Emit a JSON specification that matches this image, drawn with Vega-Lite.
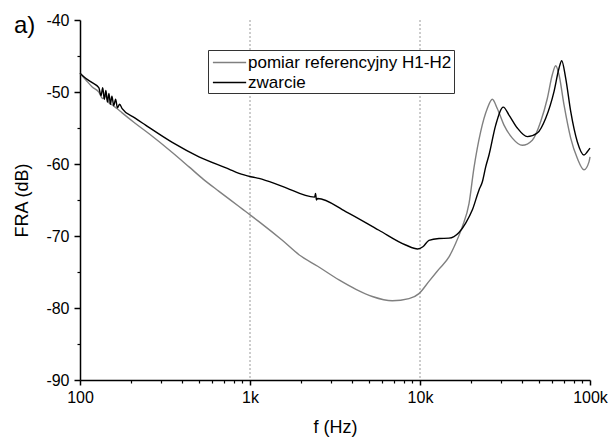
{
  "$schema": "https://vega.github.io/schema/vega-lite/v6.json",
  "width": 510,
  "height": 360,
  "padding": {"left": 13, "top": 12, "right": 3, "bottom": 2},
  "config": {
    "view": {"stroke": null},
    "font": "Liberation Sans",
    "axis": {"labelFont": "Liberation Sans", "titleFont": "Liberation Sans", "labelColor": "black", "titleColor": "black", "domainColor": "black", "tickColor": "black", "grid": false, "titleFontWeight": "normal"}
  },
  "title": {"text": "a)", "anchor": "start", "frame": "bounds", "fontSize": 24, "fontWeight": "normal", "font": "Liberation Sans", "color": "black", "offset": -26},
  "datasets": {
    "grid": [{"f": 1000}, {"f": 10000}],
    "series": [
      {"s": "pomiar referencyjny H1-H2", "f": 100, "db": -47.4},
      {"s": "pomiar referencyjny H1-H2", "f": 108, "db": -48.3},
      {"s": "pomiar referencyjny H1-H2", "f": 118, "db": -49.3},
      {"s": "pomiar referencyjny H1-H2", "f": 129, "db": -50.0},
      {"s": "pomiar referencyjny H1-H2", "f": 136, "db": -50.9},
      {"s": "pomiar referencyjny H1-H2", "f": 142, "db": -50.6},
      {"s": "pomiar referencyjny H1-H2", "f": 148, "db": -51.5},
      {"s": "pomiar referencyjny H1-H2", "f": 155, "db": -51.8},
      {"s": "pomiar referencyjny H1-H2", "f": 165, "db": -52.3},
      {"s": "pomiar referencyjny H1-H2", "f": 177, "db": -52.9},
      {"s": "pomiar referencyjny H1-H2", "f": 210, "db": -54.3},
      {"s": "pomiar referencyjny H1-H2", "f": 255, "db": -55.8},
      {"s": "pomiar referencyjny H1-H2", "f": 349, "db": -58.4},
      {"s": "pomiar referencyjny H1-H2", "f": 438, "db": -60.4},
      {"s": "pomiar referencyjny H1-H2", "f": 530, "db": -62.1},
      {"s": "pomiar referencyjny H1-H2", "f": 657, "db": -63.8},
      {"s": "pomiar referencyjny H1-H2", "f": 862, "db": -65.9},
      {"s": "pomiar referencyjny H1-H2", "f": 943, "db": -66.6},
      {"s": "pomiar referencyjny H1-H2", "f": 1129, "db": -68.0},
      {"s": "pomiar referencyjny H1-H2", "f": 1549, "db": -70.6},
      {"s": "pomiar referencyjny H1-H2", "f": 1942, "db": -72.6},
      {"s": "pomiar referencyjny H1-H2", "f": 2500, "db": -74.2},
      {"s": "pomiar referencyjny H1-H2", "f": 3338, "db": -76.1},
      {"s": "pomiar referencyjny H1-H2", "f": 4200, "db": -77.4},
      {"s": "pomiar referencyjny H1-H2", "f": 5241, "db": -78.4},
      {"s": "pomiar referencyjny H1-H2", "f": 6873, "db": -79.0},
      {"s": "pomiar referencyjny H1-H2", "f": 8616, "db": -78.7},
      {"s": "pomiar referencyjny H1-H2", "f": 9865, "db": -78.0},
      {"s": "pomiar referencyjny H1-H2", "f": 11290, "db": -76.3},
      {"s": "pomiar referencyjny H1-H2", "f": 12930, "db": -74.6},
      {"s": "pomiar referencyjny H1-H2", "f": 14810, "db": -72.9},
      {"s": "pomiar referencyjny H1-H2", "f": 16220, "db": -71.0},
      {"s": "pomiar referencyjny H1-H2", "f": 17740, "db": -68.7},
      {"s": "pomiar referencyjny H1-H2", "f": 19420, "db": -65.5},
      {"s": "pomiar referencyjny H1-H2", "f": 20780, "db": -60.5},
      {"s": "pomiar referencyjny H1-H2", "f": 22750, "db": -55.5},
      {"s": "pomiar referencyjny H1-H2", "f": 24880, "db": -52.3},
      {"s": "pomiar referencyjny H1-H2", "f": 26630, "db": -51.0},
      {"s": "pomiar referencyjny H1-H2", "f": 28480, "db": -52.3},
      {"s": "pomiar referencyjny H1-H2", "f": 31200, "db": -54.6},
      {"s": "pomiar referencyjny H1-H2", "f": 34920, "db": -56.4},
      {"s": "pomiar referencyjny H1-H2", "f": 39960, "db": -57.4},
      {"s": "pomiar referencyjny H1-H2", "f": 45780, "db": -56.7},
      {"s": "pomiar referencyjny H1-H2", "f": 51290, "db": -54.1},
      {"s": "pomiar referencyjny H1-H2", "f": 56090, "db": -50.9},
      {"s": "pomiar referencyjny H1-H2", "f": 60010, "db": -47.6},
      {"s": "pomiar referencyjny H1-H2", "f": 62840, "db": -46.35},
      {"s": "pomiar referencyjny H1-H2", "f": 65720, "db": -47.6},
      {"s": "pomiar referencyjny H1-H2", "f": 70340, "db": -51.8},
      {"s": "pomiar referencyjny H1-H2", "f": 77000, "db": -56.4},
      {"s": "pomiar referencyjny H1-H2", "f": 84200, "db": -59.2},
      {"s": "pomiar referencyjny H1-H2", "f": 92200, "db": -60.8},
      {"s": "pomiar referencyjny H1-H2", "f": 98650, "db": -59.7},
      {"s": "pomiar referencyjny H1-H2", "f": 100000, "db": -59.0},
      {"s": "zwarcie", "f": 100, "db": -47.4},
      {"s": "zwarcie", "f": 108, "db": -48.1},
      {"s": "zwarcie", "f": 118, "db": -48.7},
      {"s": "zwarcie", "f": 129, "db": -49.4},
      {"s": "zwarcie", "f": 133, "db": -50.5},
      {"s": "zwarcie", "f": 136, "db": -49.4},
      {"s": "zwarcie", "f": 139, "db": -51.0},
      {"s": "zwarcie", "f": 142, "db": -49.8},
      {"s": "zwarcie", "f": 145, "db": -51.4},
      {"s": "zwarcie", "f": 148, "db": -50.2},
      {"s": "zwarcie", "f": 151, "db": -51.7},
      {"s": "zwarcie", "f": 154, "db": -50.6},
      {"s": "zwarcie", "f": 158, "db": -51.9},
      {"s": "zwarcie", "f": 162, "db": -51.0},
      {"s": "zwarcie", "f": 166, "db": -52.2},
      {"s": "zwarcie", "f": 171, "db": -51.7},
      {"s": "zwarcie", "f": 177, "db": -52.3},
      {"s": "zwarcie", "f": 210, "db": -53.6},
      {"s": "zwarcie", "f": 243, "db": -54.6},
      {"s": "zwarcie", "f": 349, "db": -57.0},
      {"s": "zwarcie", "f": 501, "db": -59.0},
      {"s": "zwarcie", "f": 752, "db": -60.7},
      {"s": "zwarcie", "f": 862, "db": -61.3},
      {"s": "zwarcie", "f": 1031, "db": -61.8},
      {"s": "zwarcie", "f": 1129, "db": -62.0},
      {"s": "zwarcie", "f": 1549, "db": -63.1},
      {"s": "zwarcie", "f": 2400, "db": -64.6},
      {"s": "zwarcie", "f": 2430, "db": -64.1},
      {"s": "zwarcie", "f": 2460, "db": -65.0},
      {"s": "zwarcie", "f": 2500, "db": -64.8},
      {"s": "zwarcie", "f": 3655, "db": -66.6},
      {"s": "zwarcie", "f": 5738, "db": -69.2},
      {"s": "zwarcie", "f": 8238, "db": -71.25},
      {"s": "zwarcie", "f": 9700, "db": -71.8},
      {"s": "zwarcie", "f": 10400, "db": -71.5},
      {"s": "zwarcie", "f": 11290, "db": -70.6},
      {"s": "zwarcie", "f": 12930, "db": -70.35},
      {"s": "zwarcie", "f": 14810, "db": -70.3},
      {"s": "zwarcie", "f": 16960, "db": -69.5},
      {"s": "zwarcie", "f": 18570, "db": -68.2},
      {"s": "zwarcie", "f": 20300, "db": -66.4},
      {"s": "zwarcie", "f": 22240, "db": -63.6},
      {"s": "zwarcie", "f": 23250, "db": -62.5},
      {"s": "zwarcie", "f": 24350, "db": -60.4},
      {"s": "zwarcie", "f": 25460, "db": -58.75},
      {"s": "zwarcie", "f": 27880, "db": -54.6},
      {"s": "zwarcie", "f": 30900, "db": -52.1},
      {"s": "zwarcie", "f": 33380, "db": -53.2},
      {"s": "zwarcie", "f": 37360, "db": -55.0},
      {"s": "zwarcie", "f": 42780, "db": -56.2},
      {"s": "zwarcie", "f": 48980, "db": -55.7},
      {"s": "zwarcie", "f": 54880, "db": -53.65},
      {"s": "zwarcie", "f": 61410, "db": -49.95},
      {"s": "zwarcie", "f": 65720, "db": -46.7},
      {"s": "zwarcie", "f": 68170, "db": -45.65},
      {"s": "zwarcie", "f": 71970, "db": -48.1},
      {"s": "zwarcie", "f": 77000, "db": -52.7},
      {"s": "zwarcie", "f": 84200, "db": -56.9},
      {"s": "zwarcie", "f": 92200, "db": -58.75},
      {"s": "zwarcie", "f": 96400, "db": -58.3},
      {"s": "zwarcie", "f": 100000, "db": -57.8}
    ]
  },
  "resolve": {"axis": {"x": "independent", "y": "independent"}},
  "layer": [
    {
      "data": {"name": "grid"},
      "mark": {"type": "rule", "strokeDash": [2, 2], "color": "#9a9a9a", "strokeWidth": 1},
      "encoding": {
        "x": {
          "field": "f", "type": "quantitative",
          "scale": {"type": "log", "domain": [100, 100000], "nice": false},
          "axis": {"orient": "bottom", "values": [200, 300, 400, 500, 600, 700, 800, 900, 2000, 3000, 4000, 5000, 6000, 7000, 8000, 9000, 20000, 30000, 40000, 50000, 60000, 70000, 80000, 90000], "labels": false, "domain": false, "tickSize": 3, "tickWidth": 1.2, "title": null}
        }
      }
    },
    {
      "data": {"name": "series"},
      "mark": {"type": "line", "strokeWidth": 1.4, "interpolate": "monotone"},
      "encoding": {
        "x": {
          "field": "f", "type": "quantitative",
          "scale": {"type": "log", "domain": [100, 100000], "nice": false},
          "axis": {"orient": "bottom", "values": [100, 1000, 10000, 100000], "tickSize": 5, "tickWidth": 1.5, "domainWidth": 1.5, "labelFontSize": 16, "labelPadding": 4, "labelExpr": "datum.value >= 1000 ? (datum.value / 1000) + 'k' : '' + datum.value", "title": "f (Hz)", "titleFontSize": 18, "titlePadding": 13, "labelFlush": false, "labelOverlap": false}
        },
        "y": {
          "field": "db", "type": "quantitative",
          "scale": {"domain": [-90, -40], "nice": false, "zero": false},
          "axis": {"orient": "left", "values": [-90, -80, -70, -60, -50, -40], "tickSize": 6, "tickWidth": 1.5, "domainWidth": 1.5, "labelFontSize": 16, "labelPadding": 5, "labelExpr": "'' + datum.value", "title": "FRA (dB)", "titleFontSize": 18, "titlePadding": 14, "labelFlush": false, "labelOverlap": false}
        },
        "color": {
          "field": "s", "type": "nominal",
          "scale": {"domain": ["pomiar referencyjny H1-H2", "zwarcie"], "range": ["#808080", "#000000"]},
          "legend": {"orient": "none", "legendX": 128, "legendY": 30, "title": null, "strokeColor": "#333333", "fillColor": "white", "padding": 2, "symbolType": "M-0.8,0H2.7", "symbolSize": 361, "symbolStrokeWidth": 1.5, "labelFontSize": 17, "labelFont": "Liberation Sans", "labelColor": "black", "labelOffset": 17, "rowPadding": 1, "labelLimit": 400}
        }
      }
    },
    {
      "data": {"name": "series"},
      "mark": {"type": "line", "opacity": 0},
      "encoding": {
        "x": {"field": "f", "type": "quantitative", "scale": {"type": "log", "domain": [100, 100000], "nice": false}, "axis": null},
        "y": {
          "field": "db", "type": "quantitative",
          "scale": {"domain": [-90, -40], "nice": false, "zero": false},
          "axis": {"orient": "left", "values": [-85, -75, -65, -55, -45], "labels": false, "domain": false, "tickSize": 3, "tickWidth": 1.2, "title": null}
        },
        "detail": {"field": "s", "type": "nominal"}
      }
    }
  ]
}
